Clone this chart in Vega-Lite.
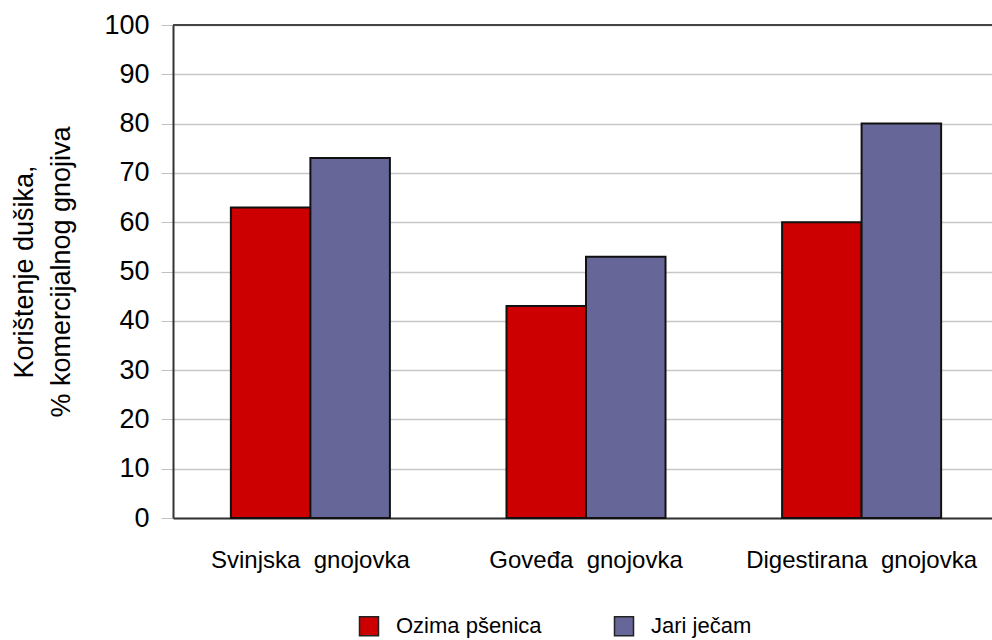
{
  "$schema": "https://vega.github.io/schema/vega-lite/v6.json",
  "autosize": "none",
  "width": 819,
  "height": 493,
  "padding": {"left": 173, "top": 25, "right": 0, "bottom": 122},
  "background": "white",
  "config": {
    "font": "Liberation Sans",
    "view": {"stroke": null},
    "axis": {"labelFont": "Liberation Sans", "titleFont": "Liberation Sans"}
  },
  "data": {
    "values": [
      {"gnojovka": "Svinjska\u00a0 gnojovka", "kultura": "Ozima pšenica", "vrijednost": 63},
      {"gnojovka": "Svinjska\u00a0 gnojovka", "kultura": "Jari ječam", "vrijednost": 73},
      {"gnojovka": "Goveđa\u00a0 gnojovka", "kultura": "Ozima pšenica", "vrijednost": 43},
      {"gnojovka": "Goveđa\u00a0 gnojovka", "kultura": "Jari ječam", "vrijednost": 53},
      {"gnojovka": "Digestirana\u00a0 gnojovka", "kultura": "Ozima pšenica", "vrijednost": 60},
      {"gnojovka": "Digestirana\u00a0 gnojovka", "kultura": "Jari ječam", "vrijednost": 80}
    ]
  },
  "layer": [
    {
      "mark": {"type": "bar", "stroke": "#111111", "strokeWidth": 2},
      "encoding": {
        "x": {
          "field": "gnojovka",
          "type": "nominal",
          "sort": null,
          "scale": {"range": [0, 826], "paddingInner": 0.423, "paddingOuter": 0.21},
          "axis": {
            "title": null,
            "labelAngle": 0,
            "labelFontSize": 24,
            "labelColor": "#000000",
            "labelPadding": 30,
            "labelLimit": 0,
            "ticks": false,
            "domainColor": "#333333",
            "domainWidth": 2
          }
        },
        "xOffset": {"field": "kultura", "type": "nominal", "sort": ["Ozima pšenica", "Jari ječam"], "scale": {"paddingInner": 0, "paddingOuter": 0}},
        "y": {
          "field": "vrijednost",
          "type": "quantitative",
          "scale": {"domain": [0, 100], "nice": false},
          "axis": {
            "title": ["Korištenje dušika,", "% komercijalnog gnojiva"],
            "titleFontSize": 27,
            "titleFontWeight": "normal",
            "titleColor": "#000000",
            "titleLineHeight": 37,
            "titlePadding": 28,
            "values": [0, 10, 20, 30, 40, 50, 60, 70, 80, 90, 100],
            "labelFontSize": 27,
            "labelColor": "#000000",
            "labelPadding": 12,
            "tickSize": 12,
            "tickColor": "#c0c0c0",
            "grid": true,
            "gridColor": "#c8c8c8",
            "gridWidth": 1.5,
            "domainColor": "#333333",
            "domainWidth": 2
          }
        },
        "color": {
          "field": "kultura",
          "type": "nominal",
          "sort": ["Ozima pšenica", "Jari ječam"],
          "scale": {"domain": ["Ozima pšenica", "Jari ječam"], "range": ["#cc0000", "#666699"]},
          "legend": {
            "title": null,
            "orient": "none",
            "direction": "horizontal",
            "legendX": 185,
            "legendY": 590,
            "symbolType": "square",
            "symbolSize": 361,
            "symbolStrokeColor": "#222222",
            "symbolStrokeWidth": 1.5,
            "symbolOpacity": 1,
            "labelFontSize": 22,
            "labelColor": "#000000",
            "labelOffset": 16,
            "labelLimit": 0,
            "columnPadding": 69
          }
        }
      }
    },
    {
      "mark": {"type": "rule", "color": "#444444", "strokeWidth": 2},
      "encoding": {"y": {"datum": 100}}
    }
  ]
}
